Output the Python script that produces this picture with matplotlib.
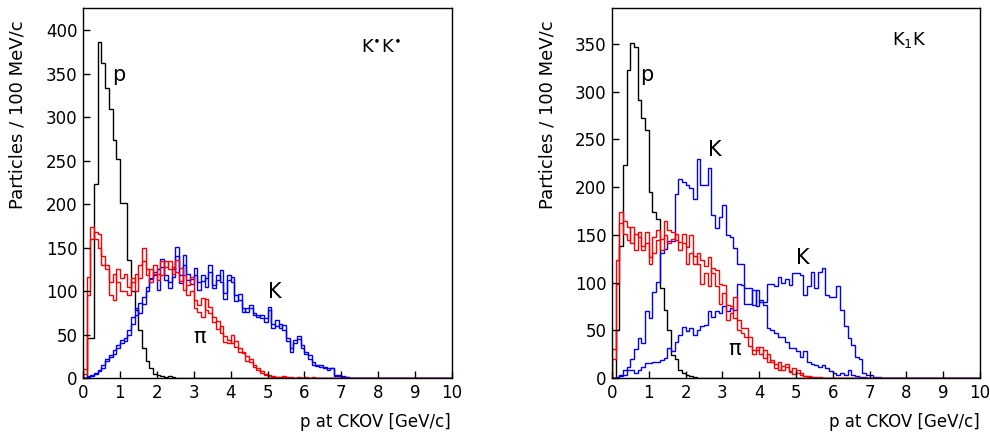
import numpy as np
import matplotlib
matplotlib.use("Agg")
import matplotlib.pyplot as plt

# ---------------- data (counts per 0.1 GeV/c bin, starting at p = 0) ----------------
bin_edges = np.round(np.arange(0, 10.0001, 0.1), 1)
NBINS = 100

# Left panel: K*K*
left_p = [0, 46, 46, 223, 386, 362, 333, 309, 274, 252, 201, 201, 136, 100, 78, 55, 35, 20,
          12, 5, 3, 2, 1, 2, 1]
left_K_a = [0, 1, 3, 5, 9, 15, 20, 24, 28, 38, 40, 42, 50, 62, 80, 75, 93, 105, 114, 118,
            101, 137, 113, 103, 116, 151, 109, 141, 113, 114, 126, 101, 118, 105, 130, 107,
            113, 124, 91, 113, 116, 89, 97, 76, 80, 80, 72, 72,
            69, 69, 82, 57, 67, 57, 61, 42, 30, 44, 45, 34, 28, 22, 15, 15, 13, 11, 11, 11,
            2, 3, 1, 1]
left_K_b = [0, 2, 2, 6, 8, 12, 22, 26, 32, 35, 44, 46, 55, 70, 72, 86, 85, 100, 115, 122,
            125, 128, 118, 110, 125, 140, 118, 130, 120, 108, 118, 110, 112, 115, 122, 104,
            118, 110, 98, 118, 110, 95, 90, 80, 76, 84, 75, 70,
            72, 64, 78, 62, 60, 62, 55, 46, 35, 40, 48, 38, 30, 26, 18, 14, 15, 13, 9, 12,
            4, 2, 2, 1]
left_pi_a = [10, 116, 174, 160, 150, 140, 125, 95, 90, 125, 115, 120, 105, 115, 100, 130, 150,
             125, 110, 130,
             113, 134, 128, 134, 120, 136, 126, 101, 107, 116, 80, 76, 70, 91, 82, 70, 56, 60,
             41, 40,
             49, 36, 34, 29, 25, 18, 13, 9, 6, 4, 2, 1, 1, 1, 1]
left_pi_b = [5, 95, 160, 168, 165, 130, 130, 110, 120, 110, 100, 100, 95, 110, 120, 115, 135,
             118, 125, 120,
             120, 118, 135, 125, 128, 122, 112, 118, 95, 100, 90, 84, 92, 78, 75, 64, 66, 52,
             48, 44,
             40, 42, 30, 30, 20, 22, 15, 12, 8, 5, 3, 2, 1, 1, 2, 1, 1, 0, 1, 0, 1, 0, 1]

# Right panel: K1 K
right_p = [0, 50, 138, 223, 323, 351, 347, 291, 272, 260, 195, 174, 167, 94, 71, 50, 24, 20,
           8, 5, 3, 2, 1]
right_K_a = [0, 1, 3, 8, 12, 20, 30, 42, 37, 70, 63, 90, 101, 131, 135, 144, 144, 193, 209, 205,
             202, 199, 188, 230, 202, 202, 220, 171, 157, 169, 181, 150, 148, 136, 119, 120,
             94, 94, 76, 92, 80, 76, 52, 50, 47, 43, 43, 38, 31,
             31, 28, 22, 28, 17, 15, 14, 12, 14, 10, 7, 5, 3, 5, 3, 8, 3, 2, 1, 1]
right_K_b = [0, 0, 2, 3, 8, 8, 5, 8, 12, 16, 16, 17, 17, 19, 21, 31, 28, 38, 45, 53,
             49, 52, 45, 50, 54, 56, 70, 64, 70, 68, 75, 70, 73, 71, 99, 97, 78, 78, 92, 75,
             82, 80, 99, 99, 96, 106, 100, 104, 97,
             110, 110, 108, 87, 96, 111, 94, 111, 115, 87, 85, 85, 96, 71, 54, 42, 35, 22, 20,
             5, 3, 3, 1, 1]
right_pi_a = [20, 124, 174, 165, 158, 141, 151, 148, 134, 153, 127, 148, 155, 134, 165, 155,
              153, 145, 143, 151,
              137, 150, 120, 131, 124, 117, 127, 110, 96, 78, 89, 61, 68, 85, 50, 47, 43, 34,
              25, 33, 25, 29, 17, 19, 15, 8, 13,
              15, 7, 10, 5, 3, 2, 1, 1, 1]
right_pi_b = [30, 99, 162, 151, 145, 158, 134, 153, 138, 141, 120, 131, 145, 146, 150, 141,
              146, 151, 134, 141,
              120, 131, 128, 120, 99, 110, 96, 115, 113, 99, 97, 76, 75, 63, 61, 52, 52, 43,
              29, 29, 33, 21, 25, 17, 11, 17, 8,
              12, 6, 4, 8, 5, 2, 2, 1, 0, 1]

x_ticks = list(range(0, 11))
left_y_ticks = list(range(0, 401, 50))
right_y_ticks = list(range(0, 351, 50))

x_title = 'p at CKOV [GeV/c]'
y_title = 'Particles / 100 MeV/c'


def full(vals):
    v = np.zeros(NBINS)
    v[:len(vals)] = vals
    return v


plt.rcParams['font.family'] = ['DejaVu Sans']

W, H = 990, 436
fig = plt.figure(figsize=(9.9, 4.36), dpi=100)
ax_l = fig.add_axes([83 / W, 58 / H, 369 / W, 370 / H])
ax_r = fig.add_axes([612 / W, 58 / H, 368 / W, 370 / H])

lw = 1.0
for ax, black, ka, kb, pa, pb, ymax, yt in [
        (ax_l, left_p, left_K_a, left_K_b, left_pi_a, left_pi_b, 425.3, left_y_ticks),
        (ax_r, right_p, right_K_a, right_K_b, right_pi_a, right_pi_b, 387.8, right_y_ticks)]:
    ax.stairs(full(black), bin_edges, color='black', lw=lw)
    ax.stairs(full(ka), bin_edges, color='#0000ff', lw=lw)
    ax.stairs(full(kb), bin_edges, color='#0000ff', lw=lw)
    ax.stairs(full(pa), bin_edges, color='#ff0000', lw=lw)
    ax.stairs(full(pb), bin_edges, color='#ff0000', lw=lw)
    ax.set_xlim(0, 10)
    ax.set_ylim(0, ymax)
    ax.set_xticks(x_ticks)
    ax.set_yticks(yt)
    ax.tick_params(direction='in', length=5, width=1, labelsize=12, pad=4)
    for s in ax.spines.values():
        s.set_linewidth(1.0)

# axis titles
fig.text(451 / W, 1 - 422 / H, x_title, fontsize=12, ha='right', va='center')
fig.text(980 / W, 1 - 422 / H, x_title, fontsize=12, ha='right', va='center')
fig.text(18 / W, 1 - 20 / H, y_title, fontsize=13, rotation=90, ha='center', va='top')
fig.text(548 / W, 1 - 20 / H, y_title, fontsize=13, rotation=90, ha='center', va='top')

# annotations
pi = '\u03c0'
ax_l.text(0.98, 348, 'p', fontsize=15, ha='center', va='center')
ax_l.text(5.2, 99, 'K', fontsize=15, ha='center', va='center')
ax_l.text(3.17, 47, pi, fontsize=15, ha='center', va='center')
ax_l.text(8.08, 379, r'K$^{\bullet}$K$^{\bullet}$', fontsize=13, ha='center', va='center')

ax_r.text(0.95, 318, 'p', fontsize=15, ha='center', va='center')
ax_r.text(2.8, 239, 'K', fontsize=15, ha='center', va='center')
ax_r.text(5.19, 126, 'K', fontsize=15, ha='center', va='center')
ax_r.text(3.34, 30, pi, fontsize=15, ha='center', va='center')
ax_r.text(8.07, 354, r'K$_1$K', fontsize=13, ha='center', va='center')

fig.savefig('out.png', dpi=100)
